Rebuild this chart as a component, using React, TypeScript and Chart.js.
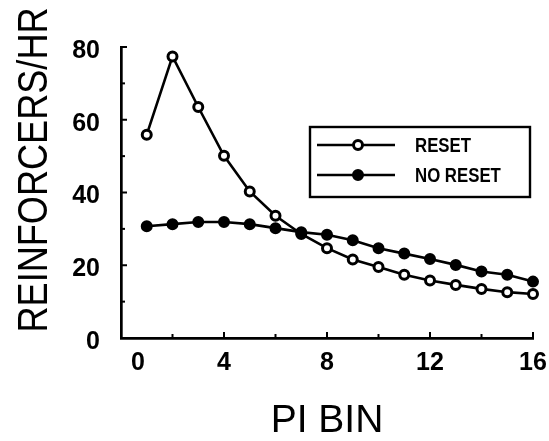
import React, { useEffect, useRef } from 'react';
import { Chart, registerables } from 'chart.js';

Chart.register(...registerables);

const bins = [1, 2, 3, 4, 5, 6, 7, 8, 9, 10, 11, 12, 13, 14, 15, 16];
const resetValues = [55.9, 77.4, 63.5, 50.1, 40.3, 33.6, 28.6, 24.7, 21.6, 19.5, 17.4, 15.8, 14.6, 13.5, 12.6, 12.1];
const noResetValues = [30.7, 31.3, 31.9, 31.9, 31.3, 30.2, 29.1, 28.4, 26.9, 24.7, 23.2, 21.7, 20.1, 18.3, 17.4, 15.5];
const xTickValues = [0, 4, 8, 12, 16];
const yTickValues = [0, 20, 40, 60, 80];
const xMinorTicks = [2, 6, 10, 14];
const yMinorTicks = [10, 30, 50, 70];
const seriesLabels = ['RESET', 'NO RESET'];
const xTitle = 'PI BIN';
const yTitle = 'REINFORCERS/HR';

const BLACK = '#000000';

const decorPlugin = {
  id: 'decor',
  beforeDraw(chart: any) {
    try {
      const xs = chart.scales.x;
      const items = xs.getLabelItems();
      items.forEach((it: any) => {
        if (it.label === '0' && it.options && it.options.translation && !it.__shifted) {
          it.options.translation[0] += 17;
          it.__shifted = true;
        }
      });
    } catch (e) {
      /* ignore */
    }
  },
  afterDraw(chart: any) {
    const { ctx, chartArea } = chart;
    const xs = chart.scales.x;
    const ys = chart.scales.y;
    ctx.save();
    ctx.strokeStyle = BLACK;
    ctx.lineWidth = 2;
    // inward tick marks
    const b = chartArea.bottom;
    const l = chartArea.left;
    xTickValues.forEach((v) => {
      const px = xs.getPixelForValue(v);
      ctx.beginPath();
      ctx.moveTo(px, b);
      ctx.lineTo(px, b - 6);
      ctx.stroke();
    });
    xMinorTicks.forEach((v) => {
      const px = xs.getPixelForValue(v);
      ctx.beginPath();
      ctx.moveTo(px, b);
      ctx.lineTo(px, b - 4);
      ctx.stroke();
    });
    yTickValues.forEach((v) => {
      const py = ys.getPixelForValue(v);
      ctx.beginPath();
      ctx.moveTo(l, py);
      ctx.lineTo(l + 6, py);
      ctx.stroke();
    });
    yMinorTicks.forEach((v) => {
      const py = ys.getPixelForValue(v);
      ctx.beginPath();
      ctx.moveTo(l, py);
      ctx.lineTo(l + 4, py);
      ctx.stroke();
    });

    // y axis title (condensed along the text direction)
    ctx.save();
    ctx.translate(33, 170);
    ctx.rotate(-Math.PI / 2);
    ctx.scale(0.84, 1);
    ctx.fillStyle = BLACK;
    ctx.font = '43px "Liberation Sans", sans-serif';
    ctx.textAlign = 'center';
    ctx.textBaseline = 'middle';
    ctx.fillText(yTitle, 0, 2);
    ctx.restore();

    // legend
    const bx = 310, by = 127, bw = 220, bh = 70;
    ctx.lineWidth = 2.4;
    ctx.strokeStyle = BLACK;
    ctx.strokeRect(bx, by, bw, bh);
    const rows = [145, 175];
    chart.data.datasets
      .slice()
      .sort((a: any, b2: any) => seriesLabels.indexOf(a.label) - seriesLabels.indexOf(b2.label))
      .forEach((ds: any, i: number) => {
        const y = rows[i];
        ctx.beginPath();
        ctx.lineWidth = ds.borderWidth;
        ctx.strokeStyle = BLACK;
        ctx.moveTo(317, y);
        ctx.lineTo(395, y);
        ctx.stroke();
        ctx.beginPath();
        ctx.arc(358, y, ds.pointRadius, 0, Math.PI * 2);
        ctx.fillStyle = ds.pointBackgroundColor;
        ctx.fill();
        ctx.lineWidth = ds.pointBorderWidth;
        ctx.stroke();
        ctx.save();
        ctx.translate(415, y + 1);
        ctx.scale(0.8, 1);
        ctx.fillStyle = BLACK;
        ctx.font = 'bold 21px "Liberation Sans", sans-serif';
        ctx.textAlign = 'left';
        ctx.textBaseline = 'middle';
        ctx.fillText(ds.label, 0, 0);
        ctx.restore();
      });
    ctx.restore();
  },
};

export default function App() {
  const ref = useRef<HTMLCanvasElement>(null);
  useEffect(() => {
    document.body.style.margin = '0';
    document.body.style.background = '#ffffff';
    const canvas = ref.current;
    if (!canvas) return;
    const chart = new Chart(canvas, {
      type: 'line',
      data: {
        datasets: [
          {
            label: seriesLabels[0],
            data: bins.map((x, i) => ({ x, y: resetValues[i] })),
            borderColor: BLACK,
            borderWidth: 2.6,
            pointRadius: 4.5,
            pointBorderWidth: 3,
            pointBackgroundColor: '#ffffff',
            pointBorderColor: BLACK,
            fill: false,
            tension: 0,
            clip: false,
            order: 1,
          } as any,
          {
            label: seriesLabels[1],
            data: bins.map((x, i) => ({ x, y: noResetValues[i] })),
            borderColor: BLACK,
            borderWidth: 2.6,
            pointRadius: 4.5,
            pointBorderWidth: 3,
            pointBackgroundColor: BLACK,
            pointBorderColor: BLACK,
            fill: false,
            tension: 0,
            clip: false,
            order: 0,
          } as any,
        ],
      },
      options: {
        animation: false,
        responsive: false,
        devicePixelRatio: 1,
        layout: { padding: { left: 0, top: 47, right: 16, bottom: 0 } },
        plugins: {
          legend: { display: false },
          tooltip: { enabled: false },
        },
        scales: {
          x: {
            type: 'linear',
            min: 0,
            max: 16,
            afterFit: (s: any) => {
              s.height = 103;
              s.paddingLeft = 0;
              s.paddingRight = 0;
            },
            afterBuildTicks: (s: any) => {
              s.ticks = xTickValues.map((v) => ({ value: v }));
            },
            grid: { display: false, drawTicks: false },
            border: { display: true, color: BLACK, width: 2.7 },
            ticks: {
              color: BLACK,
              padding: 10,
              maxRotation: 0,
              autoSkip: false,
              font: { family: '"Liberation Sans", sans-serif', size: 25, weight: 'bold' },
            },
            title: {
              display: true,
              text: xTitle,
              color: BLACK,
              padding: { top: 0, bottom: 0 },
              font: { family: '"Liberation Sans", sans-serif', size: 39, lineHeight: 1 },
            },
          },
          y: {
            type: 'linear',
            min: 0,
            max: 80,
            afterFit: (s: any) => {
              s.width = 121;
              s.paddingTop = 0;
              s.paddingBottom = 0;
            },
            afterBuildTicks: (s: any) => {
              s.ticks = yTickValues.map((v) => ({ value: v }));
            },
            grid: { display: false, drawTicks: false },
            border: { display: true, color: BLACK, width: 2.7 },
            ticks: {
              color: BLACK,
              padding: 21,
              labelOffset: 4,
              autoSkip: false,
              font: { family: '"Liberation Sans", sans-serif', size: 25, weight: 'bold' },
            },
          },
        },
      },
      plugins: [decorPlugin],
    } as any);
    return () => chart.destroy();
  }, []);
  return (
    <div style={{ width: 549, height: 441, background: '#fff' }}>
      <canvas ref={ref} width={549} height={441} style={{ display: 'block', width: 549, height: 441 }} />
    </div>
  );
}
